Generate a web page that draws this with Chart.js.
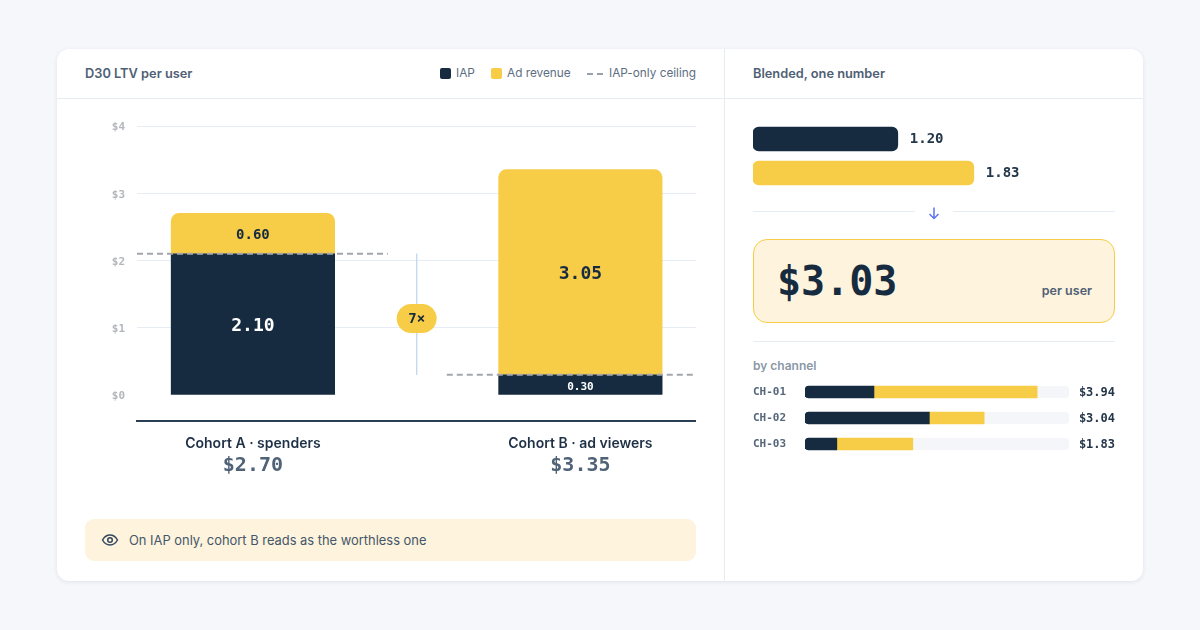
<!DOCTYPE html>
<html>
<head>
<meta charset="utf-8">
<script src="https://cdn.jsdelivr.net/npm/chart.js@4/dist/chart.umd.min.js"></script>
<style>
  * { box-sizing: border-box; margin: 0; padding: 0; }
  body { width: 1200px; height: 630px; background: #f5f7fb; font-family: Inter, sans-serif; overflow: hidden; position: relative; }
  .card { position: absolute; left: 57px; top: 49px; width: 1086px; height: 532px; background: #fff; border-radius: 12px; box-shadow: 0 1px 4px rgba(30,50,80,.10); }
  .abs { position: absolute; white-space: nowrap; }
  .hline { position: absolute; height: 1px; background: #e6ecf4; }
  .head { font-size: 12.800px; font-weight: 600; color: #4f6075; line-height: 16px; }
  .leg { font-size: 11.800px; color: #5d6e82; line-height: 16px; }
  .sw { position: absolute; width: 11px; height: 11px; border-radius: 2px; }
  .dash { position: absolute; width: 6px; height: 2px; background: #9aa0a8; }
  canvas { position: absolute; }
  .note { position: absolute; left: 85px; top: 519px; width: 611px; height: 42px; background: #fef3dc; border-radius: 9px; }
  .big { position: absolute; left: 753px; top: 239px; width: 362px; height: 84px; background: #fef3dc; border: 1px solid #f7cd48; border-radius: 14px; }
  .mono { font-family: "DejaVu Sans Mono", monospace; }
</style>
</head>
<body>
<div class="card"></div>
<div class="hline" style="left:57px;top:98px;width:1086px"></div>
<div class="abs" style="left:724px;top:49px;width:1px;height:532px;background:#e6ecf4"></div>

<div class="abs head" style="left:85px;top:66px">D30 LTV per user</div>
<div class="sw" style="left:440px;top:68px;background:#172b40"></div>
<div class="abs leg" style="left:456px;top:65px">IAP</div>
<div class="sw" style="left:491px;top:68px;background:#f7cd48"></div>
<div class="abs leg" style="left:507px;top:65px">Ad revenue</div>
<div class="dash" style="left:587px;top:73px"></div>
<div class="dash" style="left:597px;top:73px"></div>
<div class="abs leg" style="left:609px;top:65px">IAP-only ceiling</div>

<div class="abs head" style="left:753px;top:66px">Blended, one number</div>

<canvas id="chartCohorts" width="611" height="371" style="left:85px;top:110px"></canvas>

<div class="note"></div>
<svg class="abs" style="left:101px;top:532px" width="18" height="16" viewBox="0 0 18 16" fill="none" stroke="#33475c" stroke-width="1.5">
  <path d="M1.500 8C3.500 4.500 6 3 9 3s5.500 1.500 7.500 5C14.500 11.500 12 13 9 13S3.500 11.500 1.500 8Z"/>
  <circle cx="9" cy="8" r="2.300"/>
</svg>
<div class="abs" style="left:129px;top:532px;font-size:12.900px;line-height:17px;color:#44576b">On IAP only, cohort B reads as the worthless one</div>

<canvas id="chartBlend" width="362" height="68" style="left:753px;top:122px"></canvas>

<div class="hline" style="left:753px;top:211px;width:162px"></div>
<div class="hline" style="left:953px;top:211px;width:162px"></div>
<svg class="abs" style="left:927px;top:205.500px" width="14" height="14" viewBox="0 0 14 14" fill="none" stroke="#5b74f0" stroke-width="1.5">
  <path d="M7 1.500V12.500M2.500 8L7 12.500L11.500 8"/>
</svg>

<div class="big"></div>
<div class="abs mono" style="left:777px;top:257px;font-size:40px;line-height:48px;font-weight:700;color:#172b40">$3.03</div>
<div class="abs" style="right:108px;top:283px;font-size:12.500px;line-height:16px;font-weight:600;color:#4f6075">per user</div>

<div class="hline" style="left:753px;top:341px;width:362px"></div>
<div class="abs" style="left:753px;top:358px;font-size:12px;line-height:16px;font-weight:600;color:#8b98a8">by channel</div>

<canvas id="chartChannels" width="362" height="78" style="left:753px;top:379px"></canvas>

<script>
const cohorts = ['Cohort A · spenders', 'Cohort B · ad viewers']
const cohortTotals = ['$2.70', '$3.35']
const iapValues = [2.10, 0.30]
const adValues = [0.60, 3.05]
const yTicks = [0, 1, 2, 3, 4]
const multipleLabel = '7×'

const blendLabels = ['IAP', 'Ad revenue']
const blendValues = [1.20, 1.83]

const channels = ['CH-01', 'CH-02', 'CH-03']
const channelIap = [1.17, 2.11, 0.54]
const channelAd = [2.77, 0.93, 1.29]
const channelTotals = ['$3.94', '$3.04', '$1.83']

const NAVY = '#172b40'
const YELLOW = '#f7cd48'
const MONO = '"DejaVu Sans Mono", monospace'

Chart.defaults.font.family = 'Inter, sans-serif'
Chart.defaults.animation = false
Chart.defaults.plugins.legend.display = false
Chart.defaults.plugins.tooltip.enabled = false

const text = (ctx, str, x, y, font, color, align = 'center') => {
    ctx.save()
    ctx.font = font
    ctx.fillStyle = color
    ctx.textAlign = align
    ctx.textBaseline = 'middle'
    ctx.fillText(str, x, y)
    ctx.restore()
}

// tick labels must not shrink the plot area
const noTickPadding = s => {
    s.paddingTop = 0
    s.paddingBottom = 0
}

const cohortLabels = {
    id: 'cohortLabels',
    afterDatasetsDraw(chart) {
        const { ctx, chartArea, scales: { x, y } } = chart
        // canvas middle baseline sits high for the mono face, so nudge it down
        yTicks.forEach(v => {
            text(ctx, '$' + v, chartArea.left - 12, y.getPixelForValue(v) + 1.5, `bold 11px ${MONO}`, '#b3b6bb', 'right')
        })
        iapValues.forEach((v, i) => {
            const px = x.getPixelForValue(i)
            const midIap = y.getPixelForValue(v / 2)
            const midAd = y.getPixelForValue(v + adValues[i] / 2)
            text(ctx, v.toFixed(2), px, midIap + 2, `bold ${i == 0 ? 18 : 11}px ${MONO}`, '#fff')
            text(ctx, adValues[i].toFixed(2), px, midAd + 2, `bold ${i == 0 ? 14 : 18}px ${MONO}`, NAVY)
            text(ctx, cohortTotals[i], px, chartArea.bottom + 45, `bold 20px ${MONO}`, '#4f6277')
        })
        // pill between the two ceilings
        const cx = x.getPixelForValue(0.5)
        const cy = y.getPixelForValue(1.135)
        ctx.save()
        ctx.fillStyle = YELLOW
        ctx.beginPath()
        ctx.roundRect(cx - 20, cy - 14.5, 40, 29, 14.5)
        ctx.fill()
        ctx.restore()
        text(ctx, multipleLabel, cx, cy + 1, `bold 14px ${MONO}`, NAVY)
    }
}

new Chart(document.getElementById('chartCohorts').getContext('2d'), {
    type: 'bar',
    data: {
        datasets: [
            {
                label: 'IAP',
                data: iapValues.map((v, i) => ({ x: i, y: v })),
                backgroundColor: NAVY,
                barThickness: 163.5,
                order: 2
            },
            {
                label: 'Ad revenue',
                data: adValues.map((v, i) => ({ x: i, y: v })),
                backgroundColor: YELLOW,
                barThickness: 163.5,
                borderRadius: { topLeft: 8, topRight: 8 },
                borderSkipped: 'bottom',
                order: 2
            },
            {
                type: 'line',
                label: 'IAP-only ceiling A',
                data: [{ x: -0.354, y: iapValues[0] }, { x: 0.412, y: iapValues[0] }],
                borderColor: '#a3a7ad',
                borderWidth: 2,
                borderDash: [6, 4],
                pointRadius: 0,
                stack: 'ceilA',
                order: 1
            },
            {
                type: 'line',
                label: 'IAP-only ceiling B',
                data: [{ x: 0.592, y: iapValues[1] }, { x: 1.353, y: iapValues[1] }],
                borderColor: '#a3a7ad',
                borderWidth: 2,
                borderDash: [6, 4],
                pointRadius: 0,
                stack: 'ceilB',
                order: 1
            },
            {
                type: 'line',
                label: 'gap',
                data: [{ x: 0.5, y: iapValues[0] }, { x: 0.5, y: iapValues[1] }],
                borderColor: '#c5d9ee',
                borderWidth: 1,
                pointRadius: 0,
                stack: 'gap',
                order: 1
            }
        ]
    },
    options: {
        responsive: false,
        layout: { padding: { top: 16, right: 0, bottom: 0, left: 0 } },
        scales: {
            x: {
                type: 'linear',
                stacked: true,
                offset: false,
                min: -0.354,
                max: 1.353,
                afterBuildTicks: s => { s.ticks = [{ value: 0 }, { value: 1 }] },
                afterFit: s => {
                    s.height = 60
                    s.paddingLeft = 0
                    s.paddingRight = 0
                },
                grid: { display: false, offset: false },
                border: { color: '#2a3f55', width: 2 },
                ticks: {
                    padding: 6,
                    maxRotation: 0,
                    autoSkip: false,
                    callback: v => cohorts[v],
                    color: '#1f3146',
                    font: { size: 14, weight: '600' }
                }
            },
            y: {
                stacked: true,
                min: -0.388,
                max: 4,
                afterBuildTicks: s => { s.ticks = yTicks.map(v => ({ value: v })) },
                afterFit: s => {
                    s.width = 52
                    noTickPadding(s)
                },
                border: { display: false },
                grid: {
                    drawTicks: false,
                    color: c => c.tick && c.tick.value === 0 ? 'transparent' : '#e6ecf4'
                },
                ticks: { display: false }
            }
        }
    },
    plugins: [cohortLabels]
})

const blendText = {
    id: 'blendText',
    afterDatasetsDraw(chart) {
        const { ctx, scales: { x, y } } = chart
        blendValues.forEach((v, i) => {
            text(ctx, v.toFixed(2), x.getPixelForValue(v) + 12, y.getPixelForValue(i), `bold 14px ${MONO}`, '#24364a', 'left')
        })
    }
}

new Chart(document.getElementById('chartBlend').getContext('2d'), {
    type: 'bar',
    data: {
        labels: blendLabels,
        datasets: [{
            data: blendValues,
            backgroundColor: [NAVY, YELLOW],
            barThickness: 24,
            borderRadius: 6,
            borderSkipped: false
        }]
    },
    options: {
        indexAxis: 'y',
        responsive: false,
        scales: {
            x: { display: false, min: 0, max: 3 },
            y: { display: false }
        }
    },
    plugins: [blendText]
})

const channelExtras = {
    id: 'channelExtras',
    beforeDatasetsDraw(chart) {
        const { ctx, chartArea, scales: { y } } = chart
        channels.forEach((c, i) => {
            ctx.save()
            ctx.fillStyle = '#f4f6fa'
            ctx.beginPath()
            ctx.roundRect(chartArea.left, y.getPixelForValue(i) - 6, chartArea.right - chartArea.left, 12, 4)
            ctx.fill()
            ctx.restore()
        })
    },
    afterDatasetsDraw(chart) {
        const { ctx, width, scales: { y } } = chart
        channelTotals.forEach((t, i) => {
            text(ctx, t, width, y.getPixelForValue(i) + 1, `bold 12px ${MONO}`, '#24364a', 'right')
        })
    }
}

new Chart(document.getElementById('chartChannels').getContext('2d'), {
    type: 'bar',
    data: {
        labels: channels,
        datasets: [
            {
                label: 'IAP',
                data: channelIap,
                backgroundColor: NAVY,
                barThickness: 12,
                borderRadius: { topLeft: 4, bottomLeft: 4 },
                borderSkipped: false
            },
            {
                label: 'Ad revenue',
                data: channelAd,
                backgroundColor: YELLOW,
                barThickness: 12
            }
        ]
    },
    options: {
        indexAxis: 'y',
        responsive: false,
        layout: { padding: { right: 46 } },
        scales: {
            x: { display: false, stacked: true, min: 0, max: 4.48 },
            y: {
                stacked: true,
                afterFit: s => {
                    s.width = 52
                    noTickPadding(s)
                },
                border: { display: false },
                grid: { display: false },
                ticks: {
                    crossAlign: 'far',
                    padding: 0,
                    color: '#56677b',
                    font: { family: MONO, size: 11, weight: 'bold' }
                }
            }
        }
    },
    plugins: [channelExtras]
})
</script>
</body>
</html>
